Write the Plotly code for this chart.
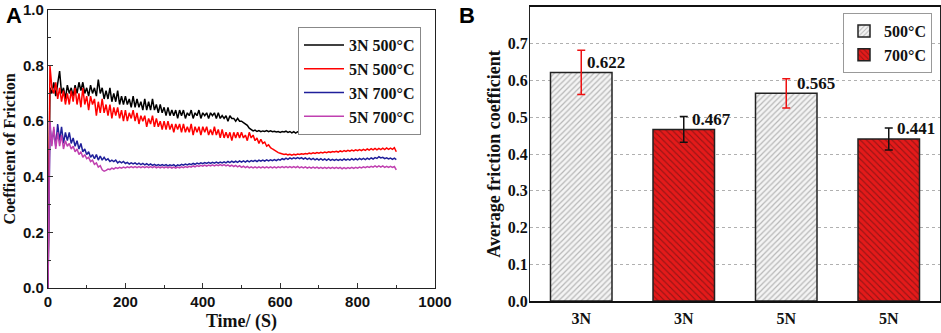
import plotly.graph_objects as go

# ---------------- Panel A data (time series, 5 s steps) ----------------
time_s = list(range(0, 905, 5))

cof_3n_500 = [
    0.00, 0.72, 0.70, 0.74, 0.69, 0.73, 0.78, 0.70, 0.72, 0.68,
    0.73, 0.70, 0.72, 0.69, 0.73, 0.70, 0.74, 0.71, 0.74, 0.70,
    0.72, 0.69, 0.73, 0.70, 0.72, 0.69, 0.75, 0.70, 0.72, 0.68,
    0.71, 0.68, 0.72, 0.67, 0.70, 0.67, 0.71, 0.66, 0.69, 0.66,
    0.69, 0.66, 0.68, 0.65, 0.69, 0.65, 0.68, 0.65, 0.67, 0.64,
    0.68, 0.64, 0.67, 0.64, 0.68, 0.64, 0.66, 0.63, 0.66, 0.63,
    0.65, 0.62, 0.65, 0.62, 0.64, 0.62, 0.64, 0.61, 0.64, 0.62,
    0.64, 0.61, 0.63, 0.62, 0.64, 0.61, 0.63, 0.62, 0.64, 0.61,
    0.63, 0.62, 0.63, 0.61, 0.63, 0.62, 0.63, 0.61, 0.63, 0.61,
    0.62, 0.61, 0.62, 0.60, 0.62, 0.61, 0.61, 0.60, 0.61, 0.60,
    0.600, 0.595, 0.590, 0.585, 0.575, 0.570, 0.565, 0.568, 0.563, 0.566,
    0.562, 0.565, 0.563, 0.566, 0.562, 0.565, 0.562, 0.564, 0.561, 0.563,
    0.560, 0.563, 0.561, 0.564, 0.560, 0.563, 0.558, 0.562, 0.557, 0.562,
    0.560, 0.564, 0.562, 0.566, 0.563, 0.567, 0.565, 0.568, 0.566, 0.569,
    0.567, 0.570, 0.568, 0.571, 0.569, 0.572, 0.570, 0.573, 0.571, 0.574,
    0.571, 0.575, 0.572, 0.575, 0.572, 0.576, 0.573, 0.576, 0.573, 0.577,
    0.574, 0.578, 0.574, 0.578, 0.575, 0.579, 0.574, 0.578, 0.575, 0.579,
    0.575, 0.578, 0.574, 0.578, 0.575, 0.579, 0.574, 0.578, 0.575, 0.579,
    0.572,
]

cof_5n_500 = [
    0.00, 0.80, 0.72, 0.70, 0.74, 0.68, 0.72, 0.67, 0.71, 0.66,
    0.70, 0.66, 0.71, 0.67, 0.72, 0.66, 0.70, 0.65, 0.72, 0.66,
    0.69, 0.64, 0.69, 0.66, 0.68, 0.62, 0.67, 0.63, 0.68, 0.63,
    0.66, 0.62, 0.66, 0.61, 0.65, 0.62, 0.65, 0.61, 0.64, 0.60,
    0.64, 0.60, 0.63, 0.61, 0.64, 0.60, 0.63, 0.59, 0.62, 0.60,
    0.62, 0.58, 0.61, 0.59, 0.62, 0.58, 0.61, 0.58, 0.60, 0.57,
    0.60, 0.57, 0.60, 0.57, 0.59, 0.56, 0.59, 0.57, 0.59, 0.56,
    0.59, 0.56, 0.58, 0.56, 0.59, 0.55, 0.58, 0.56, 0.58, 0.55,
    0.58, 0.56, 0.58, 0.55, 0.57, 0.55, 0.58, 0.55, 0.57, 0.54,
    0.57, 0.54, 0.56, 0.54, 0.56, 0.53, 0.56, 0.54, 0.56, 0.54,
    0.56, 0.54, 0.55, 0.53, 0.56, 0.54, 0.55, 0.53, 0.54, 0.52,
    0.535, 0.52, 0.525, 0.51, 0.515, 0.505, 0.50, 0.495, 0.49, 0.487,
    0.485, 0.483, 0.480, 0.482, 0.479, 0.481, 0.478, 0.481, 0.479, 0.482,
    0.480, 0.483, 0.481, 0.484, 0.482, 0.485, 0.483, 0.486, 0.484, 0.487,
    0.485, 0.488, 0.486, 0.489, 0.487, 0.490, 0.488, 0.491, 0.489, 0.492,
    0.489, 0.493, 0.490, 0.494, 0.491, 0.495, 0.492, 0.496, 0.493, 0.497,
    0.494, 0.498, 0.494, 0.499, 0.495, 0.500, 0.496, 0.501, 0.497, 0.502,
    0.497, 0.502, 0.498, 0.503, 0.498, 0.504, 0.499, 0.503, 0.499, 0.505,
    0.490,
]

cof_3n_700 = [
    0.00, 0.58, 0.52, 0.57, 0.51, 0.59, 0.53, 0.58, 0.52, 0.56,
    0.53, 0.56, 0.52, 0.54, 0.51, 0.53, 0.50, 0.52, 0.49, 0.50,
    0.48, 0.49, 0.47, 0.48, 0.465, 0.48, 0.46, 0.475, 0.46, 0.47,
    0.46, 0.465, 0.455, 0.46, 0.455, 0.46, 0.45, 0.455, 0.45, 0.455,
    0.448, 0.452, 0.446, 0.450, 0.446, 0.450, 0.445, 0.449, 0.444, 0.448,
    0.443, 0.447, 0.442, 0.446, 0.441, 0.445, 0.440, 0.444, 0.440, 0.444,
    0.440, 0.444, 0.439, 0.443, 0.440, 0.444, 0.438, 0.443, 0.440, 0.445,
    0.442, 0.446, 0.443, 0.447, 0.444, 0.448, 0.445, 0.449, 0.446, 0.450,
    0.447, 0.451, 0.448, 0.452, 0.448, 0.452, 0.449, 0.453, 0.449, 0.453,
    0.450, 0.454, 0.450, 0.455, 0.451, 0.456, 0.452, 0.456, 0.452, 0.457,
    0.453, 0.457, 0.453, 0.458, 0.454, 0.458, 0.455, 0.459, 0.455, 0.460,
    0.456, 0.460, 0.456, 0.461, 0.457, 0.461, 0.458, 0.462, 0.458, 0.463,
    0.460, 0.465, 0.462, 0.467, 0.463, 0.468, 0.464, 0.468, 0.465, 0.469,
    0.465, 0.469, 0.464, 0.468, 0.463, 0.467, 0.462, 0.466, 0.461, 0.465,
    0.460, 0.465, 0.460, 0.464, 0.459, 0.464, 0.459, 0.463, 0.459, 0.463,
    0.459, 0.463, 0.459, 0.464, 0.460, 0.464, 0.460, 0.465, 0.461, 0.465,
    0.461, 0.466, 0.462, 0.466, 0.462, 0.467, 0.463, 0.468, 0.464, 0.469,
    0.466, 0.472, 0.468, 0.470, 0.465, 0.468, 0.464, 0.467, 0.463, 0.467,
    0.462,
]

cof_5n_700 = [
    0.00, 0.60, 0.51, 0.58, 0.50, 0.56, 0.51, 0.55, 0.50, 0.53,
    0.51, 0.52, 0.50, 0.51, 0.49, 0.50, 0.48, 0.49, 0.47, 0.48,
    0.465, 0.47, 0.455, 0.46, 0.445, 0.45, 0.435, 0.44, 0.425, 0.42,
    0.423, 0.428, 0.426, 0.431, 0.428, 0.433, 0.430, 0.434, 0.431, 0.435,
    0.432, 0.436, 0.433, 0.437, 0.433, 0.437, 0.433, 0.437, 0.433, 0.437,
    0.433, 0.437, 0.433, 0.437, 0.433, 0.437, 0.432, 0.436, 0.432, 0.436,
    0.432, 0.436, 0.432, 0.436, 0.431, 0.435, 0.431, 0.435, 0.432, 0.436,
    0.433, 0.437, 0.434, 0.438, 0.435, 0.439, 0.436, 0.440, 0.437, 0.441,
    0.438, 0.442, 0.438, 0.442, 0.439, 0.443, 0.439, 0.443, 0.440, 0.444,
    0.440, 0.444, 0.439, 0.443, 0.438, 0.442, 0.437, 0.441, 0.436, 0.440,
    0.434, 0.438, 0.433, 0.437, 0.432, 0.436, 0.432, 0.436, 0.432, 0.436,
    0.432, 0.436, 0.432, 0.436, 0.432, 0.436, 0.432, 0.436, 0.432, 0.436,
    0.433, 0.437, 0.433, 0.437, 0.433, 0.437, 0.433, 0.437, 0.433, 0.437,
    0.432, 0.436, 0.432, 0.436, 0.431, 0.435, 0.431, 0.435, 0.431, 0.435,
    0.430, 0.434, 0.430, 0.434, 0.430, 0.434, 0.430, 0.434, 0.430, 0.434,
    0.430, 0.434, 0.429, 0.433, 0.429, 0.433, 0.430, 0.434, 0.430, 0.434,
    0.431, 0.435, 0.432, 0.436, 0.433, 0.437, 0.434, 0.438, 0.435, 0.439,
    0.435, 0.439, 0.435, 0.439, 0.434, 0.438, 0.434, 0.438, 0.434, 0.437,
    0.425,
]

series_names = ["3N 500°C", "5N 500°C", "3N 700°C", "5N 700°C"]
series_colors = ["#000000", "#ff0000", "#1f1f9a", "#c040b0"]

# ---------------- Panel B data ----------------
bar_tick_labels = ["3N", "3N", "5N", "5N"]
pos_500 = [0, 2]
pos_700 = [1, 3]
avg_500 = [0.622, 0.565]
err_500 = [0.06, 0.04]
avg_700 = [0.467, 0.441]
err_700 = [0.035, 0.03]
value_labels_500 = ["0.622", "0.565"]
value_labels_700 = ["0.467", "0.441"]

SERIF = "Liberation Serif"
SANS = "Liberation Sans"

fig = go.Figure()

for name, ys, col in zip(series_names, [cof_3n_500, cof_5n_500, cof_3n_700, cof_5n_700], series_colors):
    fig.add_trace(go.Scatter(
        x=time_s, y=ys, mode="lines", name=name,
        line=dict(color=col, width=1.5),
        xaxis="x", yaxis="y", legend="legend",
    ))

fig.add_trace(go.Bar(
    x=pos_500, y=avg_500, name="500°C", width=0.6,
    marker=dict(color="#f4f4f4", line=dict(color="#222222", width=1.5),
                pattern=dict(shape="/", fgcolor="#7a7a7a", bgcolor="#f4f4f4", size=4, solidity=0.3)),
    error_y=dict(type="data", array=err_500, color="#ee1111", thickness=1.5, width=4),
    xaxis="x2", yaxis="y2", legend="legend2",
))
fig.add_trace(go.Bar(
    x=pos_700, y=avg_700, name="700°C", width=0.6,
    marker=dict(color="#e41a1a", line=dict(color="#222222", width=1.5),
                pattern=dict(shape="\\", fgcolor="#3a1010", bgcolor="#e41a1a", size=4.5, solidity=0.25)),
    error_y=dict(type="data", array=err_700, color="#111111", thickness=1.5, width=4),
    xaxis="x2", yaxis="y2", legend="legend2",
))

LBL = dict(family=SERIF, size=17, color="#111", weight="bold")
annotations = []
for xpos, val, txt, dx in zip(pos_500, avg_500, value_labels_500, [0.04, 0.09]):
    annotations.append(dict(x=xpos + dx, y=val + 0.028, xref="x2", yref="y2", text=txt,
                            showarrow=False, xanchor="left", yanchor="middle", font=LBL))
for xpos, val, txt, dx in zip(pos_700, avg_700, value_labels_700, [0.06, 0.06]):
    annotations.append(dict(x=xpos + dx, y=val + 0.028, xref="x2", yref="y2", text=txt,
                            showarrow=False, xanchor="left", yanchor="middle", font=LBL))
annotations.append(dict(x=0.0, y=1.0, xref="paper", yref="paper", text="A", showarrow=False,
                        xanchor="left", yanchor="top", xshift=4, yshift=-1,
                        font=dict(family=SANS, size=22, color="#000", weight="bold")))
annotations.append(dict(x=457 / 941, y=1.0, xref="paper", yref="paper", text="B", showarrow=False,
                        xanchor="left", yanchor="top", yshift=-1,
                        font=dict(family=SANS, size=22, color="#000", weight="bold")))

fig.update_layout(
    width=941, height=333,
    margin=dict(l=0, r=0, t=0, b=0, autoexpand=False),
    paper_bgcolor="white", plot_bgcolor="white",
    annotations=annotations,
    barmode="overlay",
    xaxis=dict(domain=[48 / 941, 435 / 941], range=[0, 1000], anchor="y", automargin=False,
               tickmode="linear", tick0=0, dtick=200, ticks="inside", ticklen=5, tickwidth=1.3,
               tickcolor="#333", minor=dict(ticks="inside", dtick=100, ticklen=3, tickcolor="#333"),
               showline=True, linecolor="#222", linewidth=1.3, mirror=True, showgrid=False,
               zeroline=False,
               tickfont=dict(family=SANS, size=15, color="#111", weight="bold"),
               title=dict(text="Time/ (S)", standoff=5,
                          font=dict(family=SERIF, size=18, color="#111", weight="bold"))),
    yaxis=dict(domain=[1 - 288 / 333, 1 - 10 / 333], range=[0, 1], anchor="x", automargin=False,
               tickmode="linear", tick0=0, dtick=0.2, tickformat=".1f", ticks="inside", ticklen=5,
               tickwidth=1.3, tickcolor="#333",
               minor=dict(ticks="inside", dtick=0.1, ticklen=3, tickcolor="#333"),
               showline=True, linecolor="#222", linewidth=1.3, mirror=True, showgrid=False,
               zeroline=False,
               tickfont=dict(family=SANS, size=15, color="#111", weight="bold"),
               title=dict(text="Coefficient of Friction", standoff=3,
                          font=dict(family=SERIF, size=16, color="#111", weight="bold"))),
    xaxis2=dict(domain=[530 / 941, 940 / 941], range=[-0.5, 3.5], anchor="y2", automargin=False,
                tickmode="array", tickvals=[0, 1, 2, 3], ticktext=bar_tick_labels, ticks="",
                showline=True, linecolor="#111", linewidth=2, mirror=True, showgrid=False,
                zeroline=False, ticklabelstandoff=2,
                tickfont=dict(family=SERIF, size=16, color="#111", weight="bold")),
    yaxis2=dict(domain=[1 - 301 / 333, 1 - 7 / 333], range=[0, 0.8], anchor="x2", automargin=False,
                tickmode="linear", tick0=0, dtick=0.1, tickformat=".1f", ticks="",
                showline=True, linecolor="#222", linewidth=1.3, mirror=True,
                showgrid=True, gridcolor="#b0b0b0", griddash="dot", gridwidth=1,
                zeroline=False, ticklabelstandoff=-2,
                tickfont=dict(family=SERIF, size=16, color="#111", weight="bold"),
                title=dict(text="Average friction coefficient", standoff=2,
                           font=dict(family=SERIF, size=18, color="#111", weight="bold"))),
    legend=dict(x=298 / 941, y=1 - 27 / 333, xanchor="left", yanchor="top",
                bgcolor="white", bordercolor="#888", borderwidth=1,
                font=dict(family=SERIF, size=16, color="#111", weight="bold"),
                tracegroupgap=0, itemwidth=40),
    legend2=dict(x=843 / 941, y=1 - 13 / 333, xanchor="left", yanchor="top",
                 bgcolor="white", bordercolor="#999", borderwidth=1,
                 font=dict(family=SERIF, size=16, color="#111", weight="bold"),
                 tracegroupgap=0),
    showlegend=True,
)

fig.write_html("out.html", config={"displayModeBar": False},
               post_script="document.body.style.margin='0';document.body.style.overflow='hidden';")
